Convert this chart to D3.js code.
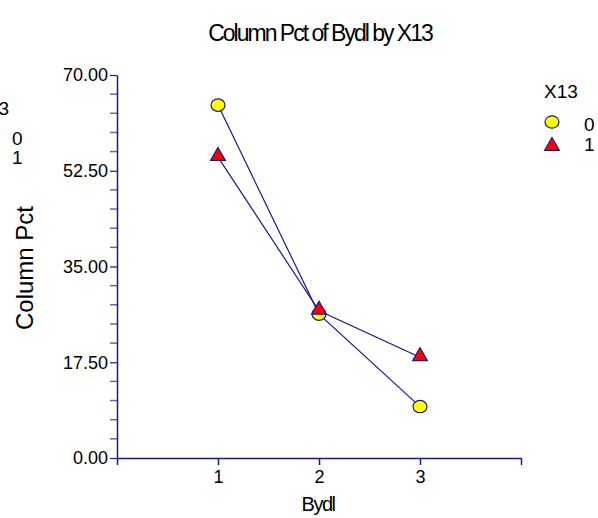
<!DOCTYPE html>
<html>
<head>
<meta charset="utf-8">
<script src="https://cdn.jsdelivr.net/npm/d3@7"></script>
<style>
  html, body { margin: 0; padding: 0; background: #fff; }
  svg { display: block; font-family: Arial, "Liberation Sans", sans-serif; }
</style>
</head>
<body>
<div id="chart"></div>
<script>
// data
const categories = [1, 2, 3];
const seriesNames = ['0', '1'];
const series0 = [64.5, 26.3, 9.4];
const series1 = [55.0, 26.9, 18.4];
const yTicks = [0, 17.5, 35, 52.5, 70];

const width = 598, height = 518;
const margin = { top: 75, right: 77, bottom: 60, left: 117 };
const navy = '#1a1a8c';
const font = 'Arial, "Liberation Sans", sans-serif';

const svg = d3.select('#chart').append('svg')
  .attr('width', width)
  .attr('height', height);

const x = d3.scaleLinear().domain([0, 4]).range([margin.left, width - margin.right]);
const y = d3.scaleLinear().domain([0, 70]).range([height - margin.bottom, margin.top]);

// title
svg.append('text')
  .attr('x', 320).attr('y', 41)
  .attr('text-anchor', 'middle')
  .attr('font-size', 23)
  .attr('letter-spacing', -2)
  .text('Column Pct of Bydl by X13');

// minor y ticks
const minor = d3.range(0, 70.01, 3.5).filter(v => yTicks.indexOf(v) < 0);
svg.append('g').selectAll('line')
  .data(minor).enter().append('line')
  .attr('x1', margin.left - 7).attr('x2', margin.left)
  .attr('y1', d => y(d)).attr('y2', d => y(d))
  .attr('stroke', '#6666bb').attr('stroke-width', 1.5);

// y axis
const yAxis = svg.append('g')
  .attr('transform', `translate(${margin.left},0)`)
  .call(d3.axisLeft(y).tickValues(yTicks).tickFormat(d3.format('.2f')).tickSize(7).tickPadding(2).tickSizeOuter(0));
yAxis.attr('font-size', 18).attr('font-family', font);
yAxis.select('.domain').attr('stroke', navy).attr('stroke-width', 1.5);
yAxis.selectAll('.tick line').attr('stroke', navy).attr('stroke-width', 1.2);
yAxis.selectAll('.tick text').attr('fill', '#000');

// x axis
const xAxis = svg.append('g')
  .attr('transform', `translate(0,${y(0)})`)
  .call(d3.axisBottom(x).tickValues([0, 1, 2, 3, 4]).tickFormat(d => categories.includes(d) ? d : '').tickSize(7).tickPadding(5).tickSizeOuter(0));
xAxis.attr('font-size', 18).attr('font-family', font);
xAxis.select('.domain').attr('stroke', navy).attr('stroke-width', 1.5);
xAxis.selectAll('.tick line').attr('stroke', navy).attr('stroke-width', 1.5);
xAxis.selectAll('.tick text').attr('fill', '#000');

// axis labels
svg.append('text')
  .attr('x', 318).attr('y', 511)
  .attr('text-anchor', 'middle')
  .attr('font-size', 20)
  .attr('letter-spacing', -1.5)
  .text('Bydl');

svg.append('text')
  .attr('transform', 'translate(33,268) rotate(-90)')
  .attr('text-anchor', 'middle')
  .attr('font-size', 24)
  .text('Column Pct');

// lines
const line = d3.line().x((d, i) => x(categories[i])).y(d => y(d));
[series0, series1].forEach(s => {
  svg.append('path')
    .attr('d', line(s))
    .attr('fill', 'none')
    .attr('stroke', navy)
    .attr('stroke-width', 1.2);
});

// markers
const tri = d3.symbol().type(d3.symbolTriangle).size(95);
svg.append('g').selectAll('ellipse')
  .data(series0).enter().append('ellipse')
  .attr('cx', (d, i) => x(categories[i]))
  .attr('cy', d => y(d))
  .attr('rx', 7).attr('ry', 6.2)
  .attr('fill', '#ffff00').attr('stroke', navy).attr('stroke-width', 1.2);

svg.append('g').selectAll('path')
  .data(series1).enter().append('path')
  .attr('d', tri)
  .attr('transform', (d, i) => `translate(${x(categories[i])},${y(d) - 1})`)
  .attr('fill', '#ff0000').attr('stroke', navy).attr('stroke-width', 1.2);

// legend
const legend = svg.append('g').attr('font-size', 19);
legend.append('text').attr('x', 544).attr('y', 98).text('X13');
legend.append('ellipse').attr('cx', 552).attr('cy', 122).attr('rx', 7).attr('ry', 6.2)
  .attr('fill', '#ffff00').attr('stroke', navy).attr('stroke-width', 1.2);
legend.append('path').attr('d', tri).attr('transform', 'translate(552,146)')
  .attr('fill', '#ff0000').attr('stroke', navy).attr('stroke-width', 1.2);
legend.selectAll('.lbl').data(seriesNames).enter().append('text')
  .attr('class', 'lbl')
  .attr('x', 584).attr('y', (d, i) => 131 + i * 20)
  .text(d => d);

// clipped legend copy at left edge
const ghost = svg.append('g').attr('font-size', 19);
ghost.append('text').attr('x', 9).attr('y', 115).attr('text-anchor', 'end').text('X13');
ghost.selectAll('.lbl').data(seriesNames).enter().append('text')
  .attr('x', 12).attr('y', (d, i) => 145 + i * 19)
  .text(d => d);
</script>
</body>
</html>
